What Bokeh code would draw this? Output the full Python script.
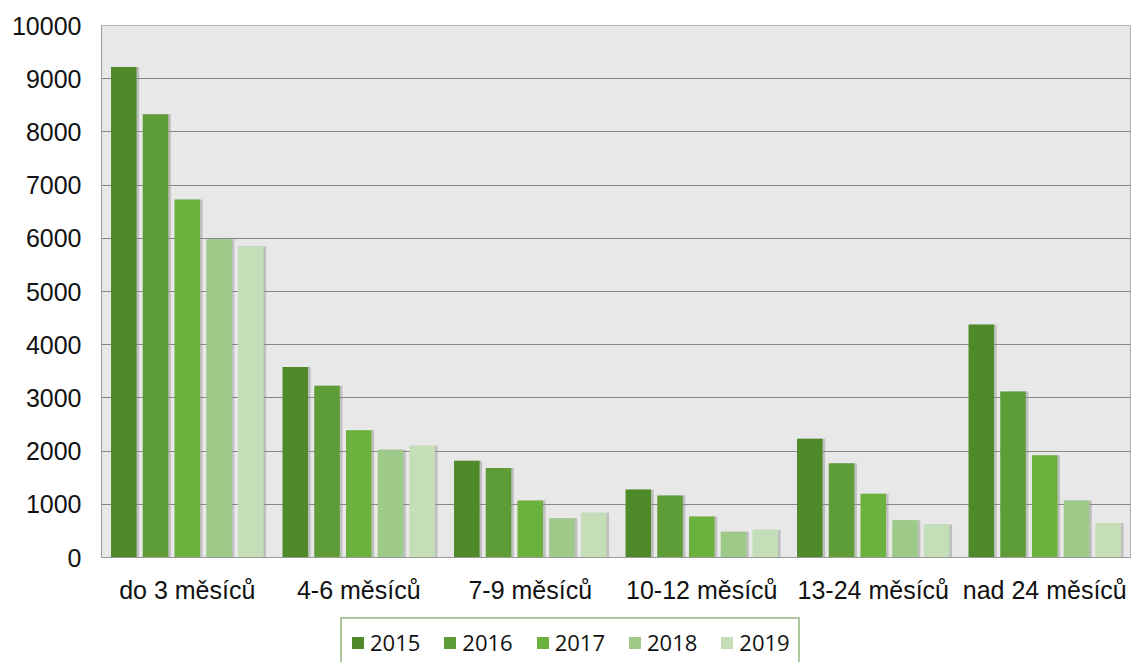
from bokeh.plotting import figure
from bokeh.layouts import column
from bokeh.models import (FactorRange, Range1d, Legend, LegendItem, ColumnDataSource,
                          FixedTicker)
from bokeh.transform import dodge
from bokeh.embed import file_html
from bokeh.resources import INLINE

categories = ["do 3 měsíců", "4-6 měsíců", "7-9 měsíců", "10-12 měsíců", "13-24 měsíců", "nad 24 měsíců"]
years = ["2015", "2016", "2017", "2018", "2019"]
v2015 = [9220, 3580, 1820, 1280, 2230, 4380]
v2016 = [8330, 3230, 1680, 1165, 1770, 3120]
v2017 = [6730, 2390, 1070, 770, 1200, 1920]
v2018 = [5980, 2025, 740, 485, 700, 1070]
v2019 = [5850, 2100, 840, 520, 620, 650]
y_ticks = [0, 1000, 2000, 3000, 4000, 5000, 6000, 7000, 8000, 9000, 10000]

colors = ["#4E8A2A", "#5D9C36", "#6BB13E", "#9DC989", "#C4DEB8"]

src = ColumnDataSource(dict(cat=categories, y2015=v2015, y2016=v2016, y2017=v2017,
                            y2018=v2018, y2019=v2019))

p = figure(x_range=FactorRange(factors=categories, range_padding=0),
           y_range=Range1d(0, 10000),
           width=1131, height=606, output_backend="svg", toolbar_location=None,
           min_border_left=101, min_border_right=1, min_border_top=25, min_border_bottom=49)

p.background_fill_color = "#E8E8E8"
p.border_fill_color = "white"
p.outline_line_color = "#B0B0B0"
p.outline_line_width = 1

step = 0.185
bw = 0.149
for i, y in enumerate(years):
    off = (i - 2) * step
    p.vbar(x=dodge("cat", off + 0.012, range=p.x_range), top="y" + y, width=bw + 0.006,
           source=src, fill_color="#8F8F8F", fill_alpha=0.45, line_color=None)
    p.vbar(x=dodge("cat", off, range=p.x_range), top="y" + y, width=bw,
           source=src, fill_color=colors[i], line_color=None)

p.xgrid.grid_line_color = None
p.ygrid.grid_line_color = "#868686"
p.ygrid.grid_line_width = 1
p.yaxis.ticker = FixedTicker(ticks=y_ticks)

for ax in (p.xaxis, p.yaxis):
    ax.major_label_text_font = "Liberation Sans"
    ax.major_label_text_font_size = "25px"
    ax.major_label_text_color = "#111111"
    ax.major_tick_line_color = None
    ax.minor_tick_line_color = None
    ax.major_tick_out = 0
    ax.major_tick_in = 0
    ax.axis_line_color = "#9A9A9A"
    ax.axis_line_width = 1

p.yaxis.major_label_standoff = 20
p.xaxis.major_label_standoff = 18
p.yaxis.formatter.use_scientific = False

# legend strip below the chart
p2 = figure(width=1131, height=56, output_backend="svg", toolbar_location=None,
            x_range=Range1d(0, 1), y_range=Range1d(0, 1),
            x_axis_type=None, y_axis_type=None,
            min_border_left=0, min_border_right=0, min_border_top=0, min_border_bottom=0)
p2.outline_line_color = None
p2.background_fill_color = "white"
p2.border_fill_color = "white"
p2.xgrid.visible = False
p2.ygrid.visible = False

items = []
for i, y in enumerate(years):
    # legend swatch source: a bar kept below the visible range of this strip
    r = p2.vbar(x="x", top="top", bottom="bottom", width=0.1,
                source=ColumnDataSource(dict(x=[0.5], top=[-1.0], bottom=[-2.0])),
                fill_color=colors[i], line_color=None)
    items.append(LegendItem(label=y, renderers=[r]))

legend = Legend(items=items, orientation="horizontal", location=(239, -5))
legend.label_text_font = "Open Sans"
legend.label_text_font_size = "22px"
legend.label_text_color = "#111111"
legend.glyph_width = 15
legend.glyph_height = 15
legend.label_standoff = 5
legend.spacing = 22
legend.padding = 8
legend.margin = 0
legend.border_line_color = "#5B8E3E"
legend.border_line_width = 2
legend.background_fill_color = "white"
legend.background_fill_alpha = 1
p2.add_layout(legend, "center")

layout = column(p, p2, spacing=0)
open("out.html", "w").write(file_html(layout, INLINE))
